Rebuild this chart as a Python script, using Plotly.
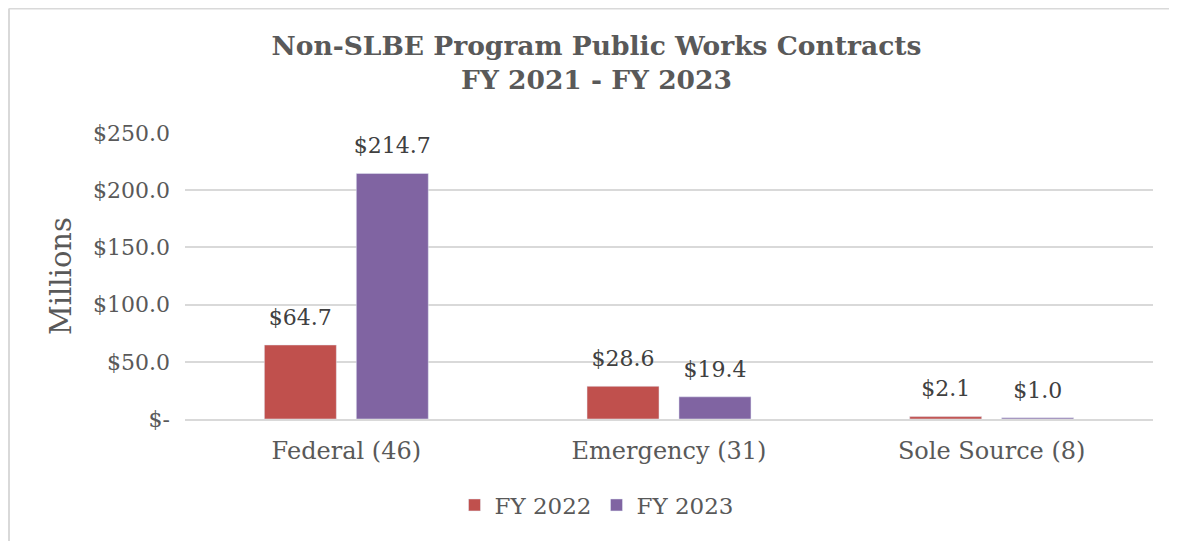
import plotly.graph_objects as go

categories = ["Federal (46)", "Emergency (31)", "Sole Source (8)"]
fy2022 = [64.7, 28.6, 2.1]
fy2023 = [214.7, 19.4, 1.0]
tick_vals = [0, 50, 100, 150, 200, 250]
tick_text = ["$-", "$50.0", "$100.0", "$150.0", "$200.0", "$250.0"]

FONT = "DejaVu Serif, serif"
TXT = "#595959"

W, H = 1177, 541
ML, MR, MT, MB = 177, 32, 125, 130
PW, PH = W - ML - MR, H - MT - MB

series = [("FY 2022", fy2022, "#C0504D"), ("FY 2023", fy2023, "#8064A2")]

fig = go.Figure()
for i, (name, vals, col) in enumerate(series):
    fig.add_trace(go.Bar(name=name, x=categories, y=vals, marker_color=col,
                         offsetgroup=str(i), hoverinfo="x+y"))
# data labels, positioned over the grouped bars
for i, (name, vals, col) in enumerate(series):
    fig.add_trace(go.Scatter(
        x=categories, y=vals, mode="markers+text", offsetgroup=str(i),
        text=[f"${v:.1f}" for v in vals], textposition="top center",
        marker=dict(size=22, opacity=0), showlegend=False, hoverinfo="skip",
        textfont=dict(size=22, color="#404040", family=FONT), cliponaxis=False))

fig.update_layout(
    width=W, height=H,
    margin=dict(l=ML, r=MR, t=MT, b=MB),
    paper_bgcolor="white", plot_bgcolor="white",
    font=dict(family=FONT, color=TXT),
    barmode="group", bargap=0.43, bargroupgap=0.217,
    scattermode="group", scattergap=0.43,
    title=dict(text="<b>Non-SLBE Program Public Works Contracts<br>FY 2021 - FY 2023</b>",
               x=0.5, xanchor="center", y=1 - 46.5 / H, yanchor="middle",
               font=dict(size=26.5, color=TXT, family=FONT)),
    legend=dict(orientation="h", x=0.5, xref="container", xanchor="center",
                y=1 - 497 / H, yref="container", yanchor="middle",
                font=dict(size=23, color=TXT), traceorder="normal"),
    showlegend=True,
)
fig.update_yaxes(range=[0, 250], tickvals=tick_vals, ticktext=tick_text,
                 showgrid=True, gridcolor="#d9d9d9", gridwidth=1.5,
                 zeroline=False, showline=False,
                 tickfont=dict(size=22, color=TXT), ticklabelstandoff=14,
                 title=dict(text="Millions", font=dict(size=29, color=TXT), standoff=12))
fig.update_xaxes(showline=True, linecolor="#d9d9d9", linewidth=2,
                 tickfont=dict(size=24, color=TXT), ticks="", ticklabelstandoff=9)

# chart frame (left and top edges)
fx0 = (1 - ML) / PW
fy_top = (MT + PH - 0.5) / PH
fig.add_shape(type="line", xref="paper", yref="paper",
              x0=fx0, x1=(W - ML) / PW, y0=fy_top, y1=fy_top,
              line=dict(color="#d9d9d9", width=2), layer="below")
fig.add_shape(type="line", xref="paper", yref="paper",
              x0=fx0, x1=fx0, y0=-MB / PH - 0.1, y1=fy_top,
              line=dict(color="#d9d9d9", width=2), layer="below")

fig.write_html("out.html")
